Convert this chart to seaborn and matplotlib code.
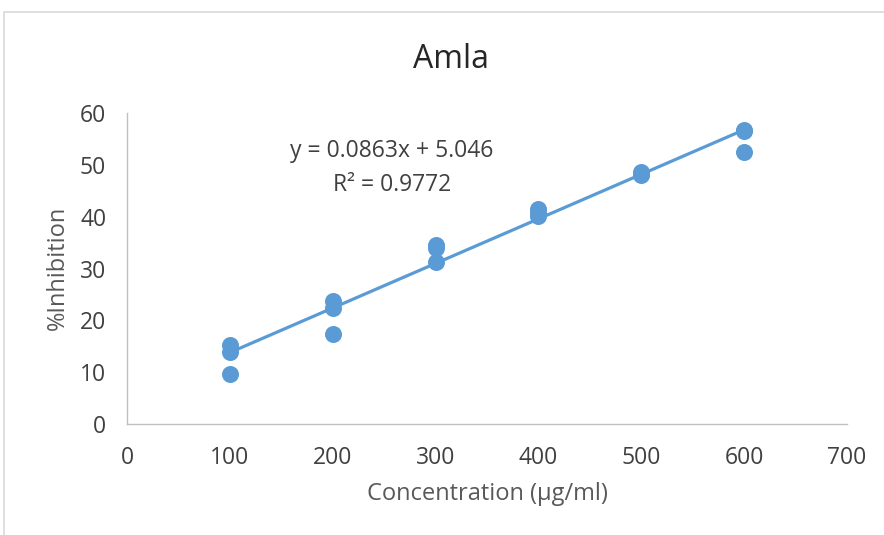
import numpy as np
import pandas as pd
import matplotlib
matplotlib.use("Agg")
import matplotlib.pyplot as plt
import seaborn as sns
from matplotlib.patches import Rectangle

# Data
concentration = [100, 100, 100, 200, 200, 200, 300, 300, 300,
                 400, 400, 400, 500, 500, 500, 600, 600, 600]
inhibition = [15.2, 13.8, 9.7, 23.8, 22.3, 17.3, 34.5, 34.0, 31.2,
              41.5, 40.8, 40.2, 48.7, 48.3, 48.0, 56.7, 56.5, 52.5]
x_ticks = [0, 100, 200, 300, 400, 500, 600, 700]
y_ticks = [0, 10, 20, 30, 40, 50, 60]
title = "Amla"
equation_text = "y = 0.0863x + 5.046"
r2_text = "R² = 0.9772"

df = pd.DataFrame({"Concentration": concentration, "Inhibition": inhibition})

sns.set_theme(style="white")
plt.rcParams['font.family'] = ['Open Sans', 'DejaVu Sans']

fig = plt.figure(figsize=(8.84, 5.35), dpi=100)
ax = fig.add_axes([127/884, 1-424/535, (847-127)/884, (424-113)/535])

blue = "#5b9bd5"
sns.regplot(data=df, x="Concentration", y="Inhibition", ax=ax, ci=None,
            color=blue, scatter_kws={"s": 150, "alpha": 1, "linewidths": 0},
            line_kws={"linewidth": 2.3})

ax.set_xlim(0, 700)
ax.set_ylim(0, 60)
ax.set_xticks(x_ticks)
ax.set_yticks(y_ticks)
txtc = "#404040"
ax.tick_params(axis="both", length=0, labelsize=16.5, colors=txtc)
ax.tick_params(axis="x", pad=16)
ax.tick_params(axis="y", pad=15)
for s in ["top", "right"]:
    ax.spines[s].set_visible(False)
for s in ["left", "bottom"]:
    ax.spines[s].set_color("#bfbfbf")
    ax.spines[s].set_linewidth(1.0)

ax.set_xlabel("Concentration (µg/ml)", fontsize=17, color="#595959")
ax.set_ylabel("%Inhibition", fontsize=17, color="#595959")
ax.xaxis.set_label_coords((487-127)/720, (424-494)/311)
ax.xaxis.label.set_va("center")
ax.yaxis.set_label_coords((58-127)/720, (424-268)/311)
ax.yaxis.label.set_va("center")
fig.text(451/884, 1-60/535, title, ha="center", va="center", fontsize=23, color="#262626")

ax.text(257.5, 52.6, equation_text, ha="center", va="center", fontsize=16.5, color=txtc)
ax.text(257.5, 46.2, r2_text, ha="center", va="center", fontsize=16.5, color=txtc)

fig.add_artist(Rectangle((4/884, -0.05), 1.0, (535-12)/535 + 0.05,
                         transform=fig.transFigure, fill=False,
                         edgecolor="#d9d9d9", linewidth=1.2))

fig.savefig("out.png", dpi=100)
